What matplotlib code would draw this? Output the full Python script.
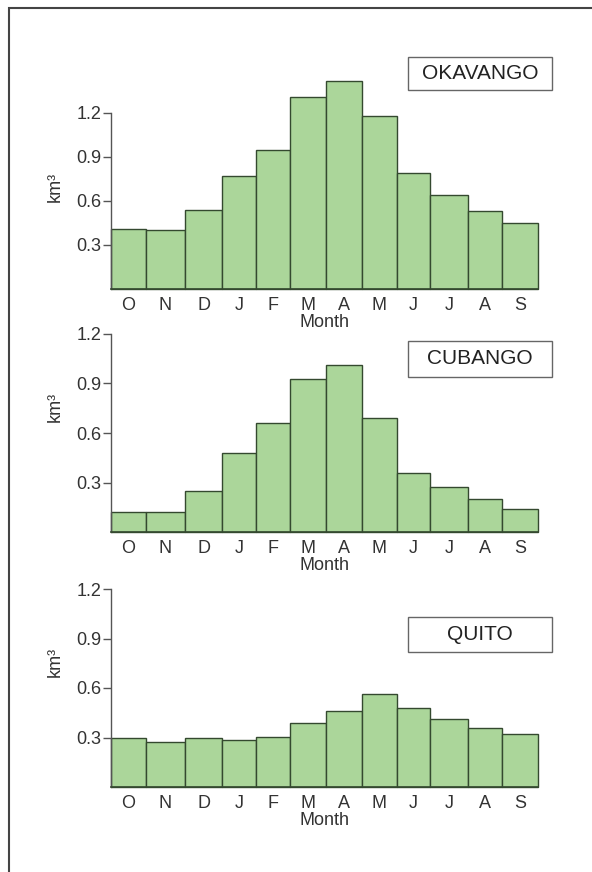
import numpy as np
import matplotlib
matplotlib.use("Agg")
import matplotlib.pyplot as plt
from matplotlib.patches import Rectangle

plt.rcParams['font.family'] = ['Liberation Sans', 'DejaVu Sans']

# month labels, water year Oct -> Sep
months = ['O', 'N', 'D', 'J', 'F', 'M', 'A', 'M', 'J', 'J', 'A', 'S']
# bar edges as drawn (hand drawn, not equal width), in month units
month_edges = [0, 0.974, 2.08, 3.13, 4.07, 5.04, 6.05, 7.06, 8.03, 8.97, 10.02, 10.98, 12]

okavango = [0.41, 0.40, 0.54, 0.77, 0.95, 1.31, 1.42, 1.18, 0.79, 0.64, 0.535, 0.45]
cubango = [0.12, 0.12, 0.25, 0.48, 0.66, 0.93, 1.01, 0.69, 0.36, 0.27, 0.20, 0.14]
quito = [0.30, 0.27, 0.295, 0.285, 0.305, 0.385, 0.46, 0.565, 0.48, 0.415, 0.36, 0.32]

yticks = [0.3, 0.6, 0.9, 1.2]

W, H = 592, 872
fig = plt.figure(figsize=(W / 100, H / 100), dpi=100)
fig.patch.set_facecolor('white')

txt = '#333333'
axc = '#555555'
fill = '#abd69a'
edge = '#34492f'

# (name, values, baseline px, top px, ymax, box top px, box bottom px, ylabel frac)
panels = [
    ('OKAVANGO', okavango, 289, 61.6, 1.55, 57, 90, 0.45),
    ('CUBANGO', cubango, 532, 334, 1.2, 341, 377, 0.63),
    ('QUITO', quito, 787, 589, 1.2, 617, 652, 0.63),
]

edges = np.array(month_edges)
widths = np.diff(edges)
centers = edges[:-1] + widths / 2

for name, vals, base, top, ymax, bt, bb, ylf in panels:
    ax = fig.add_axes([111 / W, 1 - base / H, 427 / W, (base - top) / H])
    bars = ax.bar(edges[:-1], vals, width=widths, align='edge', color=fill,
                  edgecolor=edge, linewidth=1.0)
    for b in bars:
        b.set_clip_on(False)
    ax.set_xlim(edges[0], edges[-1])
    ax.set_ylim(0, ymax)
    for s in ['top', 'right']:
        ax.spines[s].set_visible(False)
    ax.spines['left'].set_bounds(0, 1.2)
    ax.spines['left'].set_color(axc)
    ax.spines['bottom'].set_color(edge)
    ax.spines['left'].set_linewidth(1.0)
    ax.spines['bottom'].set_linewidth(1.2)
    ax.set_yticks(yticks)
    ax.set_yticklabels([f'{v:.1f}' for v in yticks])
    ax.set_xticks(centers)
    ax.set_xticklabels(months)
    ax.tick_params(axis='y', length=6, width=1, color=axc, pad=1,
                   labelsize=13, labelcolor=txt)
    ax.tick_params(axis='x', length=0, pad=6, labelsize=13, labelcolor=txt)
    ax.set_xlabel('Month', fontsize=13, color=txt, labelpad=0)
    ax.set_ylabel('km³', fontsize=13, color=txt)
    ax.yaxis.set_label_coords(-0.11, ylf)

    # label box
    fig.add_artist(Rectangle((408 / W, 1 - bb / H), 144 / W, (bb - bt) / H,
                             transform=fig.transFigure, facecolor='white',
                             edgecolor='#666666', linewidth=1.0))
    fig.text(480 / W, 1 - (bt + bb) / 2 / H, name, ha='center', va='center',
             fontsize=15, color='#222222')

# outer frame (only top and left visible in the crop)
fig.add_artist(Rectangle((9 / W, -0.1), 1.2, 1 - 8 / H + 0.1,
                         transform=fig.transFigure, fill=False,
                         edgecolor='#444444', linewidth=1.5))

fig.savefig('out.png', dpi=100, facecolor='white')
